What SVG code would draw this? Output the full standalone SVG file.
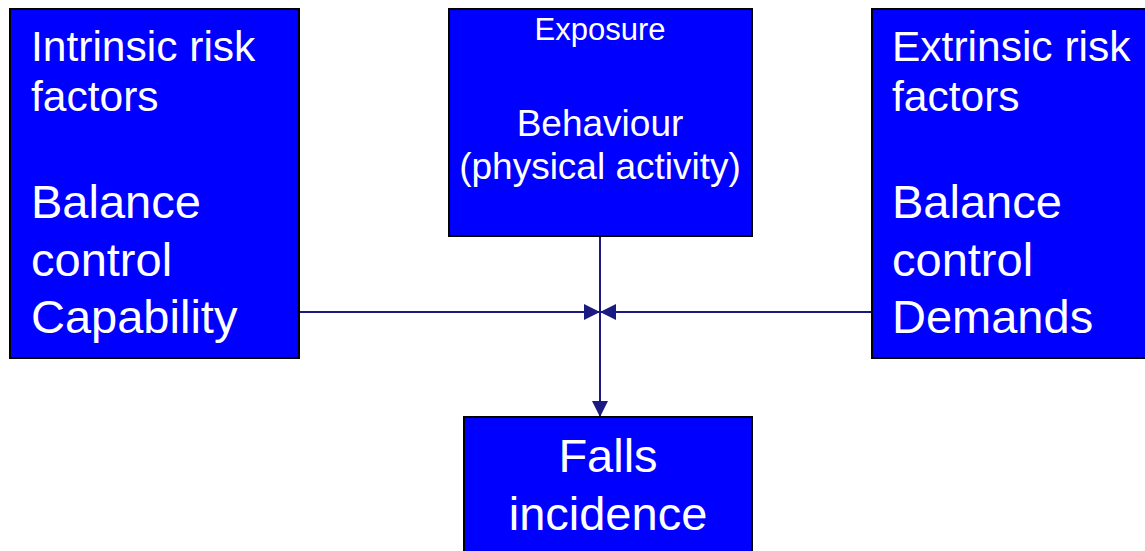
<svg xmlns="http://www.w3.org/2000/svg" width="1145" height="551" viewBox="0 0 1145 551">
<style>
.box{fill:#0000FF;stroke:#000000;stroke-width:2}
.t{fill:#FFFFFF;font-family:"Liberation Sans",Arial,sans-serif}
.c{stroke:#1a1a80;stroke-width:2;fill:none}
</style>
<defs>
<marker id="ah" viewBox="0 0 16 16" refX="15" refY="8" markerWidth="16" markerHeight="16" markerUnits="userSpaceOnUse" orient="auto">
<path d="M0,0 L16,8 L0,16 Z" fill="#1a1a80"/>
</marker>
</defs>
<rect width="1145" height="551" fill="#FFFFFF"/>
<g id="connectors">
<line class="c" x1="299" y1="312" x2="599" y2="312" marker-end="url(#ah)"/>
<line class="c" x1="872" y1="312" x2="601" y2="312" marker-end="url(#ah)"/>
<line class="c" x1="600" y1="236" x2="600" y2="416" marker-end="url(#ah)"/>
</g>
<g id="intrinsic">
<rect class="box" x="10" y="9" width="289" height="349"/>
<text class="t" font-size="42.5"><tspan x="31" y="61">Intrinsic risk</tspan><tspan x="31" y="111">factors</tspan></text>
<text class="t" font-size="47"><tspan x="31" y="218">Balance</tspan><tspan x="31" y="276">control</tspan><tspan x="31" y="333">Capability</tspan></text>
</g>
<g id="exposure">
<rect class="box" x="449" y="9" width="303" height="227"/>
<text class="t" font-size="31" text-anchor="middle" x="600" y="40">Exposure</text>
<text class="t" font-size="37" text-anchor="middle"><tspan x="600" y="136">Behaviour</tspan><tspan x="600" y="179">(physical activity)</tspan></text>
</g>
<g id="extrinsic">
<rect class="box" x="872" y="9" width="280" height="349"/>
<text class="t" font-size="42.5"><tspan x="892" y="61">Extrinsic risk</tspan><tspan x="892" y="111">factors</tspan></text>
<text class="t" font-size="47"><tspan x="892" y="218">Balance</tspan><tspan x="892" y="276">control</tspan><tspan x="892" y="333">Demands</tspan></text>
</g>
<g id="falls">
<rect class="box" x="464" y="417" width="288" height="140"/>
<text class="t" font-size="47" text-anchor="middle"><tspan x="608" y="472">Falls</tspan><tspan x="608" y="530">incidence</tspan></text>
</g>
</svg>
